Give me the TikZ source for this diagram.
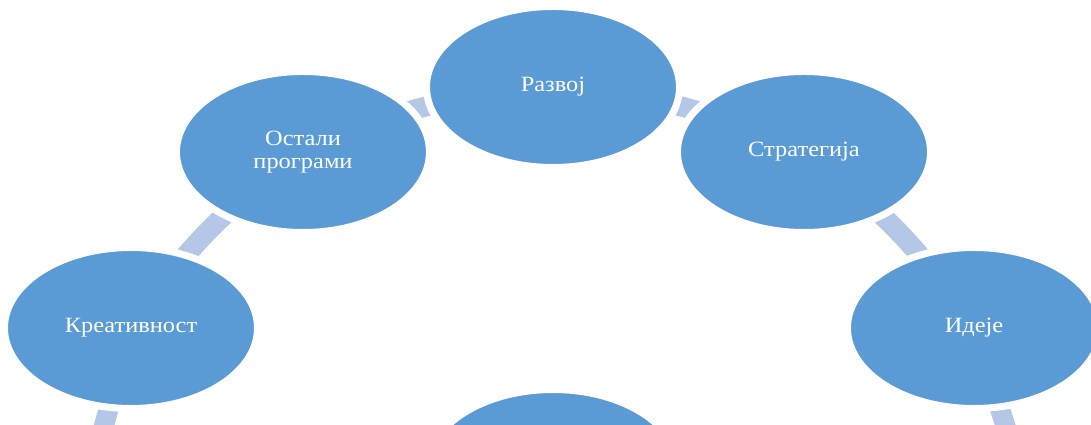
\documentclass[tikz,border=0pt]{standalone}
\usepackage{fontspec}
\setmainfont{Liberation Serif}[FakeStretch=1.12]
\usetikzlibrary{shapes.geometric,backgrounds}
\definecolor{nodeblue}{HTML}{5B9BD5}
\definecolor{connblue}{HTML}{B4C7E7}
\begin{document}
\begin{tikzpicture}[x=0.025cm,y=0.025cm,
  cyclenode/.style={ellipse, fill=nodeblue, draw=white, line width=5pt,
    minimum width=6.325cm, minimum height=4.025cm, inner sep=0pt,
    text=white, font=\fontsize{15.5}{16.2}\selectfont, align=center},
  conn/.style={draw=connblue, line width=0.5cm}]
\useasboundingbox (0,0) rectangle (1091,-425);
\node[cyclenode] (raz) at (553,-87) {Развој};
\node[cyclenode] (ost) at (303,-152) {Остали\\програми};
\node[cyclenode] (str) at (804,-152) {Стратегија};
\node[cyclenode] (kre) at (131,-328) {Креативност};
\node[cyclenode] (ide) at (974,-328) {Идеје};
\node[cyclenode] (bot) at (553,-470) {};
\coordinate (kreb) at (100,-440);
\coordinate (ideb) at (1010,-440);
\begin{pgfonlayer}{background}
\draw[conn] (kre.center) to[bend left=10] (ost.center);
\draw[conn] (ost.center) to[bend left=10] (raz.center);
\draw[conn] (raz.center) to[bend left=10] (str.center);
\draw[conn] (str.center) to[bend left=10] (ide.center);
\draw[conn] (kre.center) -- (kreb);
\draw[conn] (ide.center) -- (ideb);
\end{pgfonlayer}
\end{tikzpicture}
\end{document}
